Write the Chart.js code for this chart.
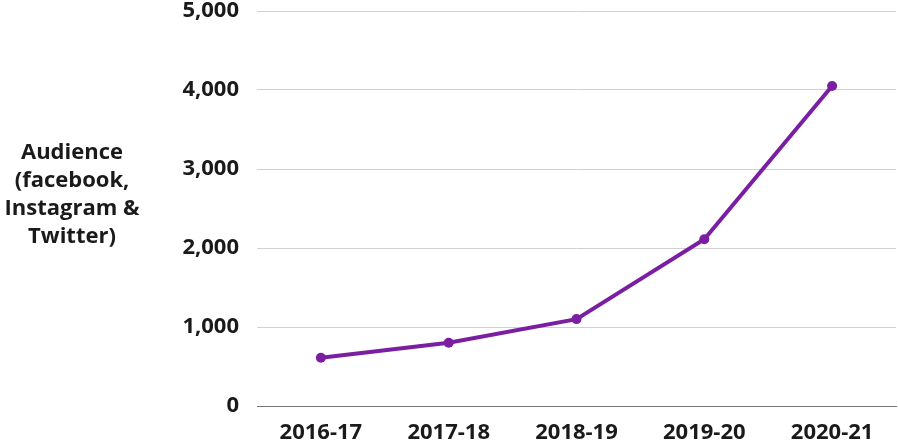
<!DOCTYPE html>
<html>
<head>
<meta charset="utf-8">
<script src="https://cdn.jsdelivr.net/npm/chart.js@4/dist/chart.umd.min.js"></script>
<style>
  html, body { margin: 0; padding: 0; background: #fff; overflow: hidden; }
  #wrap { width: 898px; height: 444px; position: relative; overflow: hidden; }
</style>
</head>
<body>
<div id="wrap"><canvas id="c" width="901" height="444"></canvas></div>
<script>
const categories = ["2016-17", "2017-18", "2018-19", "2019-20", "2020-21"];
const audience = [610, 800, 1100, 2110, 4050];
const yTitleLines = ["Audience", "(facebook,", "Instagram &", "Twitter)"];
const yMin = 0, yMax = 5000, yStep = 1000;

const FONT = "'Open Sans', 'Noto Sans', sans-serif";

const yTitlePlugin = {
  id: 'yTitle',
  afterDraw(chart) {
    const ctx = chart.ctx;
    ctx.save();
    ctx.font = "bold 22px " + FONT;
    ctx.fillStyle = '#1a1a1a';
    ctx.textAlign = 'center';
    ctx.textBaseline = 'middle';
    const cx = 72, top = 153, lh = 28;
    yTitleLines.forEach((t, i) => ctx.fillText(t, cx, top + i * lh));
    ctx.restore();
  }
};

new Chart(document.getElementById('c'), {
  type: 'line',
  data: {
    labels: categories,
    datasets: [{
      data: audience,
      borderColor: '#7b1fa2',
      backgroundColor: '#7b1fa2',
      borderWidth: 4,
      pointRadius: 5,
      pointBackgroundColor: '#7b1fa2',
      pointBorderWidth: 0,
      tension: 0
    }]
  },
  options: {
    responsive: false,
    animation: false,
    layout: { padding: { left: 150, right: 2, top: 0, bottom: 0 } },
    plugins: { legend: { display: false }, tooltip: { enabled: false } },
    scales: {
      x: {
        offset: true,
        afterFit(scale) { scale.height = 38; scale.paddingRight = 0; scale.paddingLeft = 0; },
        grid: { display: false, drawTicks: false },
        border: { display: true, color: '#777', width: 1 },
        ticks: { padding: 14, color: '#1a1a1a', font: { family: FONT, size: 22, weight: 'bold' } }
      },
      y: {
        min: yMin, max: yMax,
        afterFit(scale) { scale.width = 107; scale.paddingTop = 11; scale.paddingBottom = 0; scale.paddingLeft = 0; scale.paddingRight = 0; },
        grid: { color: '#d0d0d0', drawTicks: false },
        border: { display: false },
        ticks: {
          stepSize: yStep, padding: 18, color: '#1a1a1a',
          font: { family: FONT, size: 22, weight: 'bold' },
          callback: v => v.toLocaleString('en-US')
        }
      }
    }
  },
  plugins: [yTitlePlugin]
});
</script>
</body>
</html>
